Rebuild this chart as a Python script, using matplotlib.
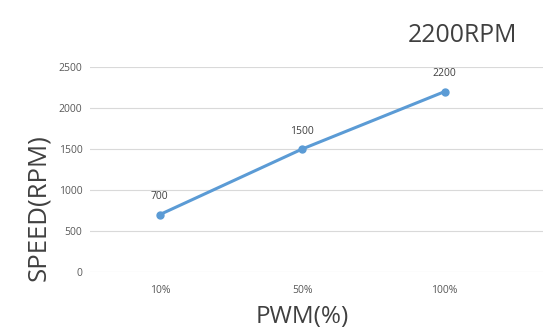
import matplotlib
matplotlib.use("Agg")
import matplotlib.pyplot as plt

plt.rcParams['font.family'] = ['Open Sans', 'DejaVu Sans']

# PWM duty vs motor speed
pwm_labels = ["10%", "50%", "100%"]
speed = [700, 1500, 2200]
yticks = [0, 500, 1000, 1500, 2000, 2500]

fig = plt.figure(figsize=(5.47, 3.35), dpi=100)
ax = fig.add_axes([0.1645, 0.188, 0.828, 0.612])

x = list(range(len(pwm_labels)))
ax.plot(x, speed, color="#5b9bd5", linewidth=2.2, marker="o", markersize=5)
for xi, v in zip(x, speed):
    ax.annotate(str(v), (xi, v), xytext=(0, 9), textcoords="offset points",
                ha="center", va="bottom", fontsize=7.5, color="#404040")

ax.set_xlim(-0.49, 2.69)
ax.set_ylim(0, 2500)
ax.set_yticks(yticks)
ax.set_xticks(x)
ax.set_xticklabels(pwm_labels)
ax.grid(axis="y", color="#d9d9d9", linewidth=0.8)
ax.set_axisbelow(True)
for s in ax.spines.values():
    s.set_visible(False)
ax.tick_params(length=0, labelsize=7.5, colors="#595959")
ax.tick_params(axis="x", pad=9)
ax.tick_params(axis="y", pad=5.5)

ax.set_xlabel("PWM(%)", fontsize=17.5, color="#404040")
ax.xaxis.set_label_coords(0.468, -0.16)
ax.set_ylabel("SPEED(RPM)", fontsize=18.5, color="#404040")
ax.yaxis.set_label_coords(-0.086, 0.314)
fig.text(0.945, 0.893, "2200RPM", fontsize=17.8, color="#404040", ha="right", va="center")

fig.savefig("out.png", dpi=100)
